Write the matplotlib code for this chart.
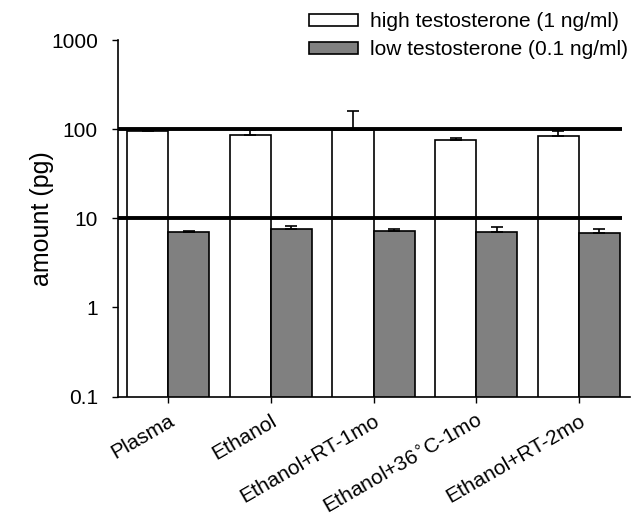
import numpy as np
import matplotlib.pyplot as plt

plt.rcParams['font.family'] = ['Liberation Sans', 'DejaVu Sans']

groups = ["Plasma", "Ethanol", "Ethanol+RT-1mo", "Ethanol+36$^{\\circ}$C-1mo", "Ethanol+RT-2mo"]
high = [95, 87, 98, 76, 83]
high_err = [3, 10, 62, 4, 12]
low = [7.0, 7.6, 7.2, 7.0, 6.8]
low_err = [0.15, 0.5, 0.4, 0.9, 0.8]
ref_lines = [100, 10]

x = np.arange(len(groups))
w = 0.4

fig = plt.figure(figsize=(6.39, 5.20), dpi=100)
ax = fig.add_axes([0.1847, 0.2375, 0.8013, 0.6855])

ax.bar(x - w / 2, high, w, color="white", edgecolor="black", linewidth=1.2,
       yerr=[np.zeros(len(high)), high_err], capsize=4,
       error_kw=dict(elinewidth=1.2, capthick=1.2), label="high testosterone (1 ng/ml)")
ax.bar(x + w / 2, low, w, color="#808080", edgecolor="black", linewidth=1.2,
       yerr=[np.zeros(len(low)), low_err], capsize=4,
       error_kw=dict(elinewidth=1.2, capthick=1.2), label="low testosterone (0.1 ng/ml)")

for v in ref_lines:
    ax.plot([-0.49, 4.42], [v, v], color="black", linewidth=2.8, solid_capstyle="butt")

ax.set_yscale("log")
ax.set_ylim(0.1, 1000)
ax.set_xlim(-0.49, 4.5)
ax.set_yticks([0.1, 1, 10, 100, 1000])
ax.set_yticklabels(["0.1", "1", "10", "100", "1000"])
ax.minorticks_off()
ax.set_xticks(x)
ax.set_xticklabels(groups, rotation=30, ha="right", rotation_mode="anchor")
ax.tick_params(axis="both", labelsize=15, width=1, length=4.5, direction="out")
ax.tick_params(axis="y", pad=10)
ax.tick_params(axis="x", pad=6)
ax.set_ylabel("amount (pg)", fontsize=18)
ax.yaxis.set_label_coords(-0.125, 0.5)

for s in ["top", "right"]:
    ax.spines[s].set_visible(False)
for s in ["left", "bottom"]:
    ax.spines[s].set_linewidth(1.2)

fig.legend(loc="upper right", bbox_to_anchor=(1.003, 1.0), frameon=False, fontsize=15,
           handlelength=2.35, handleheight=0.53, handletextpad=0.62,
           labelspacing=0.42, borderaxespad=0.2)

fig.savefig("out.png", dpi=100)
